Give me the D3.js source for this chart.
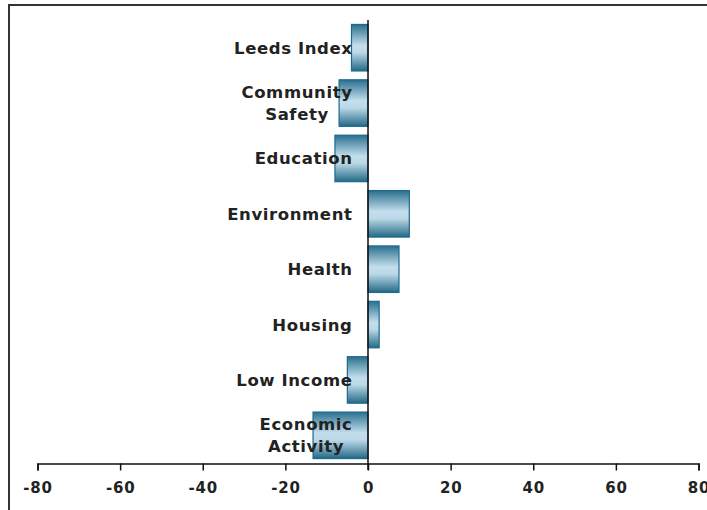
<!DOCTYPE html>
<html><head><meta charset="utf-8">
<script src="https://cdn.jsdelivr.net/npm/d3@7"></script>
<style>body{margin:0;background:#fff}svg{display:block}</style>
</head><body>
<svg id="c" width="707" height="510"></svg>
<script>
const categories = ["Leeds Index","Community Safety","Education","Environment","Health","Housing","Low Income","Economic Activity"];
const labelLines = [["Leeds Index"],["Community","Safety"],["Education"],["Environment"],["Health"],["Housing"],["Low Income"],["Economic","Activity"]];
const values = [-4, -7, -8, 10, 7.5, 2.7, -5, -13.3];
const tickValues = [-80,-60,-40,-20,0,20,40,60,80];

const svg = d3.select("#c");
const x = d3.scaleLinear().domain([-80,80]).range([37.5,698.5]);
const y = d3.scaleBand().domain(categories).range([20,463]).paddingInner(0.16).paddingOuter(0.08);

const defs = svg.append("defs");
const g = defs.append("linearGradient").attr("id","bg").attr("x1",0).attr("y1",0).attr("x2",0).attr("y2",1);
g.append("stop").attr("offset","0%").attr("stop-color","#2a6f8e");
g.append("stop").attr("offset","45%").attr("stop-color","#c3deec");
g.append("stop").attr("offset","60%").attr("stop-color","#bcd9e8");
g.append("stop").attr("offset","100%").attr("stop-color","#236985");

// frame
svg.append("path").attr("d","M9,512 L9,5 L709,5").attr("fill","none").attr("stroke","#333").attr("stroke-width",2);

// bars
svg.selectAll("rect.bar").data(categories).join("rect").attr("class","bar")
  .attr("x",(d,i)=>x(Math.min(0,values[i])))
  .attr("width",(d,i)=>Math.abs(x(values[i])-x(0)))
  .attr("y",d=>y(d))
  .attr("height",y.bandwidth())
  .attr("fill","url(#bg)")
  .attr("stroke","#1b6a8f").attr("stroke-width",1.2);

// zero line
svg.append("line").attr("x1",x(0)).attr("x2",x(0)).attr("y1",20).attr("y2",470).attr("stroke","#111").attr("stroke-width",1.5);

// x axis
const ax = svg.append("g").attr("transform","translate(0,463.5)")
  .call(d3.axisBottom(x).tickValues(tickValues).tickSize(7).tickPadding(12).tickFormat(d=>String(d)));
ax.select(".domain").attr("stroke","#111").attr("stroke-width",1.5);
ax.selectAll(".tick line").attr("stroke","#111").attr("stroke-width",1.5);
ax.selectAll(".tick text").attr("font-family","DejaVu Sans").attr("font-weight","bold").attr("font-size",15).attr("letter-spacing",0.8).attr("fill","#222");

// category labels (multi-line labels centred within their block, block right-aligned)
const labelRight = 352.5;
categories.forEach((c,i)=>{
  const lines = labelLines[i];
  const cy = y(c)+y.bandwidth()/2;
  const t = svg.append("text").attr("text-anchor","middle")
    .attr("font-family","DejaVu Sans").attr("font-weight","bold").attr("font-size",16.5).attr("letter-spacing",0.6).attr("fill","#222");
  const spans = lines.map((l,j)=> t.append("tspan").attr("y",cy + (j-(lines.length-1)/2)*22 + 6).text(l));
  const w = d3.max(spans, s=>s.node().getComputedTextLength());
  spans.forEach(s=>s.attr("x", labelRight - w/2));
});
</script>
</body></html>
